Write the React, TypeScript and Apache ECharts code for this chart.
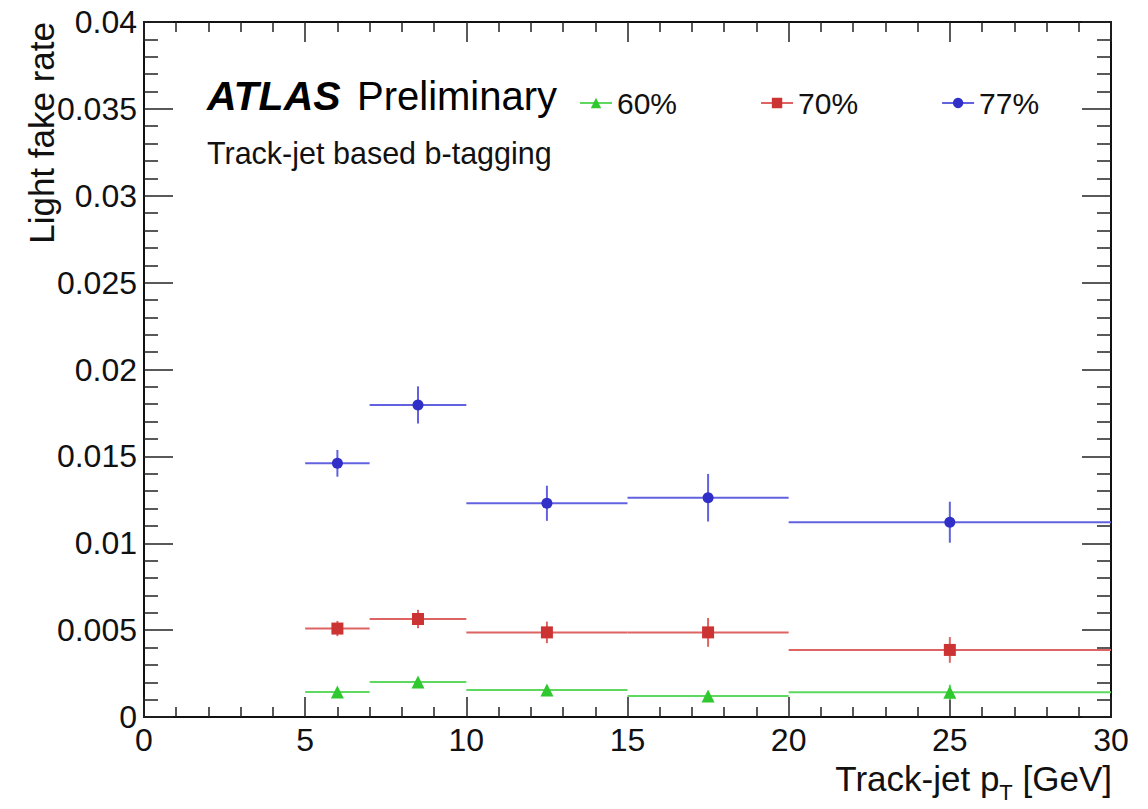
import React, { useEffect, useRef } from "react";
import * as echarts from "echarts";

// ---- data ----
const binLow = [5, 7, 10, 15, 20];
const binHigh = [7, 10, 15, 20, 30];
const binCenter = [6, 8.5, 12.5, 17.5, 25];

const names = ["60%", "70%", "77%"];
const rate60 = [0.00144, 0.00201, 0.00155, 0.00121, 0.00142];
const err60 = [0.0001, 0.00012, 0.00012, 0.00012, 0.00044];
const rate70 = [0.00509, 0.00564, 0.00487, 0.00487, 0.00386];
const err70 = [0.00044, 0.00053, 0.00062, 0.00083, 0.00074];
const rate77 = [0.0146, 0.01796, 0.0123, 0.01262, 0.01121];
const err77 = [0.00077, 0.00107, 0.00101, 0.00137, 0.00118];

const xTicks = [0, 5, 10, 15, 20, 25, 30];
const yTicks = [0, 0.005, 0.01, 0.015, 0.02, 0.025, 0.03, 0.035, 0.04];

const FONT = '"Liberation Sans", Arial, Helvetica, sans-serif';

const styles = [
  { marker: "#2fc82f", line: "#5ed85e", symbol: "triangle", size: 13 },
  { marker: "#cc3333", line: "#de6464", symbol: "rect", size: 12 },
  { marker: "#3030c8", line: "#6262e0", symbol: "circle", size: 11 },
];
const rates = [rate60, rate70, rate77];
const errs = [err60, err70, err77];

function buildOption() {
  const series: any[] = [];
  rates.forEach((vals, k) => {
    const st = styles[k];
    const data = vals.map((v, i) => [binCenter[i], v, binLow[i], binHigh[i], errs[k][i]]);
    series.push({
      type: "custom",
      name: names[k] + " err",
      xAxisIndex: 0,
      yAxisIndex: 0,
      encode: { x: 0, y: 1 },
      z: 2,
      renderItem: (params: any, api: any) => {
        const x = api.value(0);
        const y = api.value(1);
        const lo = api.value(2);
        const hi = api.value(3);
        const e = api.value(4);
        const pL = api.coord([lo, y]);
        const pR = api.coord([hi, y]);
        const pT = api.coord([x, y + e]);
        const pB = api.coord([x, y - e]);
        const style = { stroke: st.line, lineWidth: 2 };
        return {
          type: "group",
          children: [
            { type: "line", shape: { x1: pL[0], y1: pL[1], x2: pR[0], y2: pR[1] }, style },
            { type: "line", shape: { x1: pT[0], y1: pT[1], x2: pB[0], y2: pB[1] }, style },
          ],
        };
      },
      data,
    });
    series.push({
      type: "line",
      name: names[k],
      xAxisIndex: 0,
      yAxisIndex: 0,
      z: 5,
      symbol: st.symbol,
      symbolSize: st.size,
      showSymbol: true,
      itemStyle: { color: st.marker },
      lineStyle: { color: st.line, width: 0, opacity: 0 },
      data: vals.map((v, i) => [binCenter[i], v]),
    });
  });

  const tickCommon = { color: "#222", width: 1.5 };
  const axisLineStyle = { color: "#111", width: 2 };

  return {
    animation: false,
    backgroundColor: "#fff",
    textStyle: { fontFamily: FONT },
    grid: { left: 144, right: 37, top: 22, bottom: 92, containLabel: false, outerBoundsMode: "none" },
    legend: {
      data: names,
      left: 579,
      top: 88,
      padding: 0,
      itemWidth: 32,
      itemHeight: 13,
      itemGap: 83,
      selectedMode: false,
      lineStyle: { width: 2, opacity: 1 },
      textStyle: { fontSize: 30, lineHeight: 30, color: "#111", fontFamily: FONT },
    },
    xAxis: [
      {
        type: "value",
        position: "bottom",
        min: xTicks[0],
        max: xTicks[xTicks.length - 1],
        interval: 5,
        axisLine: { show: true, onZero: false, lineStyle: axisLineStyle },
        axisTick: { show: true, inside: true, length: 20, lineStyle: tickCommon },
        minorTick: { show: true, splitNumber: 5, length: 10, lineStyle: tickCommon },
        axisLabel: { show: true, fontSize: 32, color: "#111", margin: 7, fontFamily: FONT },
        splitLine: { show: false },
        minorSplitLine: { show: false },
      },
      {
        type: "value",
        position: "top",
        min: xTicks[0],
        max: xTicks[xTicks.length - 1],
        interval: 5,
        axisLine: { show: true, onZero: false, lineStyle: axisLineStyle },
        axisTick: { show: true, inside: true, length: 20, lineStyle: tickCommon },
        minorTick: { show: true, splitNumber: 5, length: 10, lineStyle: tickCommon },
        axisLabel: { show: false },
        splitLine: { show: false },
      },
    ],
    yAxis: [
      {
        type: "value",
        position: "left",
        min: yTicks[0],
        max: yTicks[yTicks.length - 1],
        interval: 0.005,
        axisLine: { show: true, onZero: false, lineStyle: axisLineStyle },
        axisTick: { show: true, inside: true, length: 29, lineStyle: tickCommon },
        minorTick: { show: true, splitNumber: 5, length: 14, lineStyle: tickCommon },
        axisLabel: {
          show: true,
          fontSize: 32,
          color: "#111",
          margin: 7,
          fontFamily: FONT,
          formatter: (v: number) => String(+v.toFixed(3)),
        },
        splitLine: { show: false },
        minorSplitLine: { show: false },
      },
      {
        type: "value",
        position: "right",
        min: yTicks[0],
        max: yTicks[yTicks.length - 1],
        interval: 0.005,
        axisLine: { show: true, onZero: false, lineStyle: axisLineStyle },
        axisTick: { show: true, inside: true, length: 29, lineStyle: tickCommon },
        minorTick: { show: true, splitNumber: 5, length: 14, lineStyle: tickCommon },
        axisLabel: { show: false },
        splitLine: { show: false },
      },
    ],
    graphic: [
      {
        type: "text",
        x: 207,
        y: 96,
        style: {
          text: "ATLAS",
          fontSize: 41,
          fontWeight: "bold",
          fontStyle: "italic",
          fontFamily: FONT,
          fill: "#000",
          verticalAlign: "middle",
        },
      },
      {
        type: "text",
        x: 357,
        y: 96,
        style: { text: "Preliminary", fontSize: 40, fontFamily: FONT, fill: "#000", verticalAlign: "middle" },
      },
      {
        type: "text",
        x: 207,
        y: 153,
        style: { text: "Track-jet based b-tagging", fontSize: 30.5, fontFamily: FONT, fill: "#111", verticalAlign: "middle" },
      },
      {
        type: "text",
        x: 24,
        y: 22,
        rotation: Math.PI / 2,
        style: {
          text: "Light fake rate",
          fontSize: 35,
          fontFamily: FONT,
          fill: "#111",
          align: "right",
          verticalAlign: "top",
        },
      },
      {
        type: "text",
        x: 1112,
        y: 761,
        style: {
          text: "{m|Track-jet p}{sub|T}{m| [GeV]}",
          fill: "#111",
          align: "right",
          verticalAlign: "top",
          rich: {
            m: { fontSize: 35, lineHeight: 38, verticalAlign: "top", fill: "#111", fontFamily: FONT },
            sub: { fontSize: 22, lineHeight: 22, padding: [25, 0, 0, 0], fill: "#111", fontFamily: FONT },
          },
        },
      },
    ],
    series,
  };
}

export default function App() {
  const ref = useRef<HTMLDivElement>(null);
  useEffect(() => {
    document.body.style.margin = "0";
    if (!ref.current) return;
    const chart = echarts.init(ref.current, undefined, { renderer: "svg" });
    chart.setOption(buildOption() as any);
    return () => chart.dispose();
  }, []);
  return <div ref={ref} style={{ width: 1148, height: 809, background: "#fff" }} />;
}
